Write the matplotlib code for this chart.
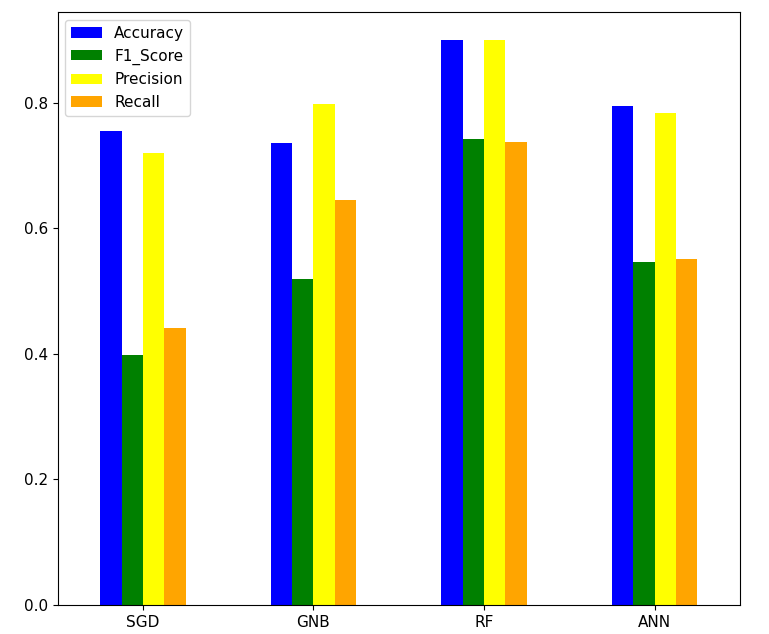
import matplotlib
matplotlib.use("Agg")
import matplotlib.pyplot as plt
import numpy as np
import pandas as pd

models = ["SGD", "GNB", "RF", "ANN"]
accuracy = [0.756, 0.737, 0.900, 0.795]
f1_score = [0.399, 0.520, 0.743, 0.547]
precision = [0.721, 0.798, 0.900, 0.784]
recall = [0.441, 0.646, 0.738, 0.552]

plt.rcParams["font.size"] = 11

df = pd.DataFrame({"Accuracy": accuracy, "F1_Score": f1_score,
                   "Precision": precision, "Recall": recall}, index=models)

fig, ax = plt.subplots(figsize=(7.69, 6.34), dpi=100)
df.plot(kind="bar", ax=ax, rot=0,
        color=["blue", "green", "yellow", "orange"])
ax.legend(loc="upper left")
plt.subplots_adjust(left=0.075, right=0.962, top=0.981, bottom=0.046)
plt.savefig("out.png")
